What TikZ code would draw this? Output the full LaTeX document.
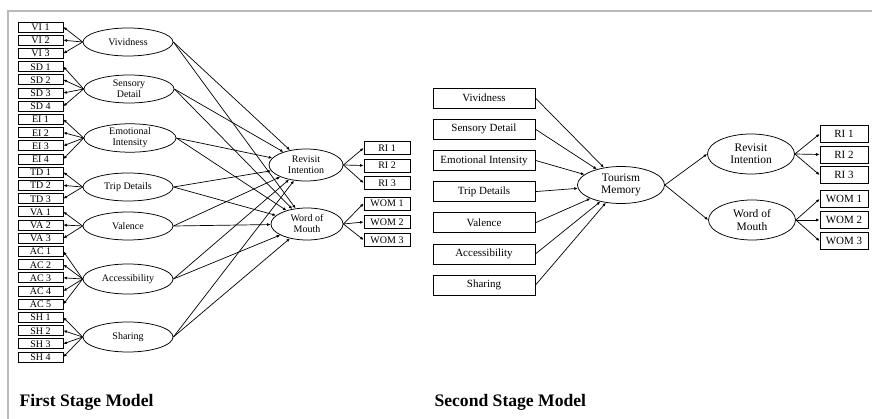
\documentclass[tikz,border=0pt]{standalone}
\usepackage{fontspec}
\setmainfont{Liberation Serif}
\usetikzlibrary{shapes.geometric,arrows.meta,positioning}
\tikzset{
  latent/.style={ellipse, draw=black, line width=0.75pt, align=center, inner sep=0pt, minimum width=90pt, minimum height=28pt, font=\fontsize{10}{11}\selectfont},
  ind/.style={rectangle, draw=black, line width=0.75pt, minimum width=45pt, minimum height=10pt, inner sep=0pt, text height=7pt, text depth=0pt, font=\fontsize{10}{10}\selectfont},
  indout/.style={ind, minimum width=46pt, minimum height=13pt},
  factor/.style={rectangle, draw=black, line width=0.75pt, minimum width=102pt, minimum height=20pt, inner sep=0pt, font=\fontsize{11}{12}\selectfont},
  bigind/.style={ind, minimum width=48pt, minimum height=17pt, text height=8pt, font=\fontsize{11}{11}\selectfont},
  biglatent/.style={latent, minimum width=87pt, minimum height=40pt, font=\fontsize{11.5}{12.5}\selectfont},
  flow/.style={-{Latex[length=3.5pt,width=3pt]}, line width=0.7pt},
  stage/.style={anchor=west, font=\fontsize{17.6}{18}\selectfont\bfseries},
}
\begin{document}
\begin{tikzpicture}[x=1pt,y=-1pt]
  \useasboundingbox (0,0) rectangle (872,419);
  \draw[gray!55, line width=1.5pt] (8,419) -- (8,11) -- (872,11);

  % first stage model
  \node[latent] (viv) at (128,42) {Vividness};
  \node[latent] (sen) at (129,89) {Sensory\\Detail};
  \node[latent, minimum width=92pt] (emo) at (130,138) {Emotional\\Intensity};
  \node[latent] (trip) at (128,187) {Trip Details};
  \node[latent] (val) at (128,226) {Valence};
  \node[latent, minimum height=30pt] (acc) at (128,279) {Accessibility};
  \node[latent, minimum height=30pt] (shr) at (128,337) {Sharing};
  \node[latent, minimum width=74pt, minimum height=32pt] (rev) at (306,165) {Revisit\\Intention};
  \node[latent, minimum width=72pt, minimum height=32pt] (wom) at (307,224) {Word of\\Mouth};

  \foreach \lab/\src [count=\i from 0] in {VI 1/viv, VI 2/viv, VI 3/viv, SD 1/sen, SD 2/sen, SD 3/sen, SD 4/sen,
      EI 1/emo, EI 2/emo, EI 3/emo, EI 4/emo, TD 1/trip, TD 2/trip, TD 3/trip, VA 1/val, VA 2/val, VA 3/val,
      AC 1/acc, AC 2/acc, AC 3/acc, AC 4/acc, AC 5/acc, SH 1/shr, SH 2/shr, SH 3/shr, SH 4/shr} {
    \node[ind] (x\i) at (40.5,27+13.2*\i) {\lab};
    \draw[flow] (\src.west) -- (x\i.east);
  }

  \foreach \src in {viv,sen,emo,trip,val,acc,shr} {
    \draw[flow] (\src.east) -- (rev);
    \draw[flow] (\src.east) -- (wom);
  }

  \foreach \lab/\y/\src [count=\i] in {RI 1/148/rev, RI 2/165.5/rev, RI 3/183/rev, WOM 1/203.5/wom, WOM 2/222/wom, WOM 3/240/wom} {
    \node[indout] (y\i) at (387,\y) {\lab};
    \draw[flow] (\src.east) -- (y\i.west);
  }

  % second stage model
  \node[biglatent, minimum height=37pt] (mem) at (621,185) {Tourism\\Memory};
  \node[biglatent] (rev2) at (751,154) {Revisit\\Intention};
  \node[biglatent] (wom2) at (752,220) {Word of\\Mouth};

  \foreach \lab [count=\i from 0] in {Vividness, Sensory Detail, Emotional Intensity, Trip Details, Valence, Accessibility, Sharing} {
    \node[factor] (f\i) at (484,98+31.2*\i) {\lab};
    \draw[flow] (f\i.east) -- (mem);
  }

  \draw[flow] (mem.east) -- (rev2.west);
  \draw[flow] (mem.east) -- (wom2.west);

  \foreach \lab/\y/\src [count=\i] in {RI 1/134/rev2, RI 2/154.5/rev2, RI 3/175/rev2, WOM 1/199/wom2, WOM 2/220/wom2, WOM 3/241/wom2} {
    \node[bigind] (z\i) at (844,\y) {\lab};
    \draw[flow] (\src.east) -- (z\i.west);
  }

  \node[stage] (first) at (16,402) {First Stage Model};
  \node[stage] (second) at (431,402) {Second Stage Model};
\end{tikzpicture}
\end{document}
